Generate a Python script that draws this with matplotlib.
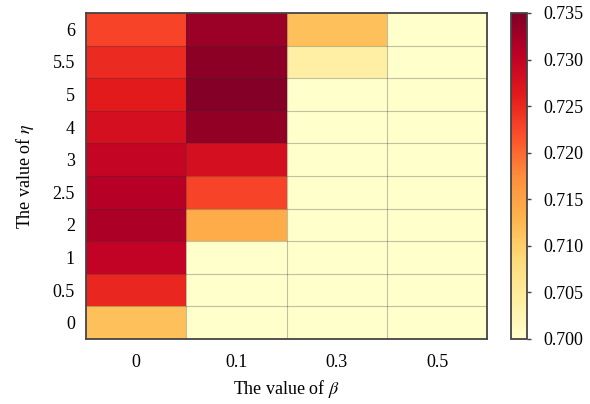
import numpy as np
import matplotlib.pyplot as plt

plt.rcParams['font.family'] = ['Liberation Serif', 'DejaVu Serif']
plt.rcParams['mathtext.fontset'] = 'stix'

# beta values (columns) and eta values (rows, bottom to top)
betas = ["0", "0.1", "0.3", "0.5"]
etas = ["0", "0.5", "1", "2", "2.5", "3", "4", "5", "5.5", "6"]

# accuracy per eta row (bottom to top), one list per beta column
beta_0 = [0.7115, 0.7252, 0.7300, 0.7318, 0.7310, 0.7298, 0.7280, 0.7262, 0.7248, 0.7228]
beta_01 = [0.700, 0.700, 0.700, 0.7140, 0.7228, 0.7280, 0.7335, 0.7346, 0.7340, 0.7330]
beta_03 = [0.700, 0.700, 0.700, 0.700, 0.700, 0.700, 0.700, 0.700, 0.7040, 0.7115]
beta_05 = [0.700, 0.700, 0.700, 0.700, 0.700, 0.700, 0.700, 0.700, 0.700, 0.700]

data = np.array([beta_0, beta_01, beta_03, beta_05]).T

fig = plt.figure(figsize=(5.9, 4.04), dpi=100)
ax = fig.add_axes([0.146, 0.161, 0.680, 0.807])
cax = fig.add_axes([0.866, 0.161, 0.027, 0.807])

mesh = ax.pcolormesh(data, cmap="YlOrRd", vmin=0.700, vmax=0.735, linewidth=0)

# thin cell borders, drawn once each
ax.set_xticks(np.arange(1, len(betas)), minor=True)
ax.set_yticks(np.arange(1, len(etas)), minor=True)
ax.grid(which="minor", color="#333333", alpha=0.3, linewidth=0.8)
ax.tick_params(which="minor", length=0)

ax.set_xticks(np.arange(len(betas)) + 0.5)
ax.set_xticklabels(betas)
ax.set_yticks(np.arange(len(etas)) + 0.5)
ax.set_yticklabels(etas)
ax.tick_params(axis="x", which="major", length=0, labelsize=13, pad=11)
ax.tick_params(axis="y", which="major", length=0, labelsize=13, pad=8)
for s in ax.spines.values():
    s.set_color("#444444")
    s.set_linewidth(1.3)

ax.set_xlabel(r"The value of $\beta$", fontsize=13, labelpad=5)
ax.set_ylabel(r"The value of $\eta$", fontsize=13, labelpad=12)

cb = fig.colorbar(mesh, cax=cax, ticks=[0.700, 0.705, 0.710, 0.715, 0.720, 0.725, 0.730, 0.735])
cb.ax.set_yticklabels(["0.700", "0.705", "0.710", "0.715", "0.720", "0.725", "0.730", "0.735"])
cb.ax.tick_params(labelsize=13, length=3, width=1, color="#444444", pad=9)
cb.outline.set_edgecolor("#444444")
cb.outline.set_linewidth(1.3)

fig.savefig("out.png", dpi=100)
